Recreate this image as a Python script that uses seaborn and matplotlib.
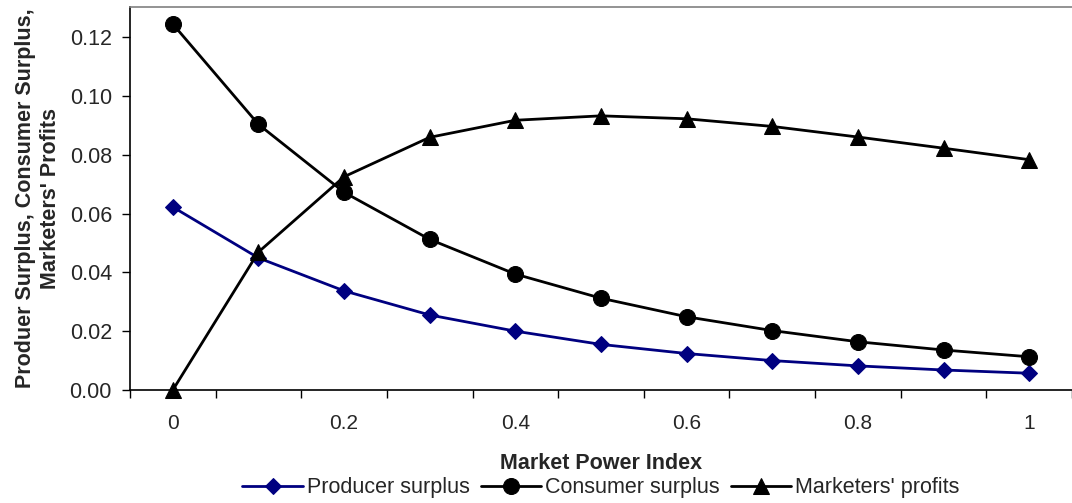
import numpy as np
import pandas as pd
import matplotlib
matplotlib.use("Agg")
import matplotlib.pyplot as plt
import seaborn as sns

sns.set_style("white")
plt.rcParams['font.family'] = ['Liberation Sans', 'DejaVu Sans']

market_power = [0.0, 0.1, 0.2, 0.3, 0.4, 0.5, 0.6, 0.7, 0.8, 0.9, 1.0]
producer_surplus = [0.0622, 0.0449, 0.0337, 0.0255, 0.0200, 0.0155, 0.0124, 0.0100, 0.0082, 0.0068, 0.0057]
consumer_surplus = [0.1244, 0.0903, 0.0672, 0.0512, 0.0394, 0.0312, 0.0249, 0.0202, 0.0164, 0.0136, 0.0113]
marketers_profits = [0.0000, 0.0469, 0.0725, 0.0859, 0.0917, 0.0932, 0.0922, 0.0896, 0.0860, 0.0822, 0.0783]

x_tick_labels = ["0", "0.2", "0.4", "0.6", "0.8", "1"]
y_ticks = [0.00, 0.02, 0.04, 0.06, 0.08, 0.10, 0.12]

df = pd.DataFrame({
    "Market Power Index": market_power,
    "Producer surplus": producer_surplus,
    "Consumer surplus": consumer_surplus,
    "Marketers' profits": marketers_profits,
})

fig = plt.figure(figsize=(10.72, 5.03), dpi=100)
ax = fig.add_axes([130 / 1072, 1 - 390 / 503, (1072 - 130) / 1072, (390 - 7) / 503])

sns.lineplot(data=df, x="Market Power Index", y="Producer surplus", ax=ax,
             color="#000080", marker="D", markersize=8.5, linewidth=2,
             markeredgecolor="#000080", label="Producer surplus")
sns.lineplot(data=df, x="Market Power Index", y="Consumer surplus", ax=ax,
             color="black", marker="o", markersize=11.5, linewidth=2,
             markeredgecolor="black", label="Consumer surplus")
sns.lineplot(data=df, x="Market Power Index", y="Marketers' profits", ax=ax,
             color="black", marker="^", markersize=12, linewidth=2,
             markeredgecolor="black", label="Marketers' profits", clip_on=False)

ax.set_xlim(-0.05, (1072 - 173) / 863)
ax.set_ylim(0, 0.1302)

ax.set_xticks([0, 0.2, 0.4, 0.6, 0.8, 1.0])
ax.set_xticklabels(x_tick_labels)
ax.set_xticks(np.arange(-0.05, 1.06, 0.1), minor=True)
ax.tick_params(axis="x", which="major", length=0, pad=17, labelsize=15)
ax.tick_params(axis="x", which="minor", length=6, width=1, color="black", direction="out", bottom=True)

ax.set_yticks(y_ticks)
ax.set_yticklabels([f"{v:.2f}" for v in y_ticks])
ax.tick_params(axis="y", which="major", length=6, width=1, color="black", direction="out", left=True, labelsize=15.5, pad=7)

for side in ["left", "bottom"]:
    ax.spines[side].set_color("black")
    ax.spines[side].set_linewidth(1.2)
ax.spines["top"].set_color("#808080")
ax.spines["top"].set_linewidth(1.2)
ax.spines["right"].set_visible(False)

ax.set_xlabel("Market Power Index", fontsize=15.5, fontweight="bold", labelpad=15)
ax.set_ylabel("Produer Surplus, Consumer Surplus,\nMarketers' Profits", fontsize=15.5,
              fontweight="bold", labelpad=6, linespacing=1.25)

ax.legend(loc="center", bbox_to_anchor=(0.5, (390 - 488) / 383), ncol=3, frameon=False,
          fontsize=15.5, handlelength=2.8, handletextpad=0.2, columnspacing=0.5,
          borderaxespad=0)

fig.savefig("out.png", dpi=100)
